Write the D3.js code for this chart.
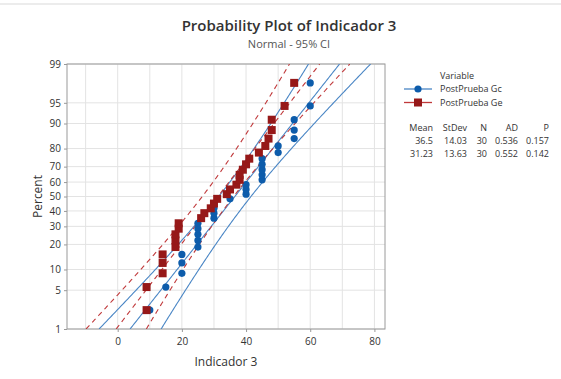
<!DOCTYPE html>
<html><head><meta charset="utf-8">
<script src="https://cdn.jsdelivr.net/npm/d3@7"></script>
<style>body{margin:0;background:#fff} svg{display:block}</style>
</head><body>
<svg id="c" width="561" height="379"></svg>
<script>
const seriesNames = ["PostPrueba Gc", "PostPrueba Ge"];
const gcValues = [10,15,20,20,20,25,25,25,25,25,30,30,30,30,35,40,40,40,45,45,45,45,45,50,50,55,55,55,60,60];
const geValues = [9,9,14,14,14,18,18,18,19,19,26,27,29,30,31,34,35,37,38,38,39,40,41,44,46,47,48,48,52,55];
const fitMean = [36.5, 31.23];
const fitSD = [14.03, 13.63];
const statHeaders = ["Mean","StDev","N","AD","P"];
const statMean = ["36.5","31.23"];
const statStDev = ["14.03","13.63"];
const statN = ["30","30"];
const statAD = ["0.536","0.552"];
const statP = ["0.157","0.142"];
const percentTicks = [1,5,10,20,30,40,50,60,70,80,90,95,99];
const xTicks = [0,20,40,60,80];
const xGrid = [-10,0,10,20,30,40,50,60,70,80];

function probit(p){
  const a=[-3.969683028665376e+01,2.209460984245205e+02,-2.759285104469687e+02,1.383577518672690e+02,-3.066479806614716e+01,2.506628277459239e+00];
  const b=[-5.447609879822406e+01,1.615858368580409e+02,-1.556989798598866e+02,6.680131188771720e+01,-1.328068155288572e+01];
  const c=[-7.784894002430293e-03,-3.223964580411365e-01,-2.400758277161838e+00,-2.549732539343734e+00,4.374664141464968e+00,2.938163982698783e+00];
  const d=[7.784695709041462e-03,3.224671290700398e-01,2.445134137142996e+00,3.754408661907416e+00];
  const pl=0.02425;
  let q,r;
  if(p<pl){q=Math.sqrt(-2*Math.log(p));return (((((c[0]*q+c[1])*q+c[2])*q+c[3])*q+c[4])*q+c[5])/((((d[0]*q+d[1])*q+d[2])*q+d[3])*q+1);}
  if(p<=1-pl){q=p-0.5;r=q*q;return (((((a[0]*r+a[1])*r+a[2])*r+a[3])*r+a[4])*r+a[5])*q/(((((b[0]*r+b[1])*r+b[2])*r+b[3])*r+b[4])*r+1);}
  q=Math.sqrt(-2*Math.log(1-p));return -(((((c[0]*q+c[1])*q+c[2])*q+c[3])*q+c[4])*q+c[5])/((((d[0]*q+d[1])*q+d[2])*q+d[3])*q+1);
}

const svg = d3.select("#c");
const L=67, R=385, T=64, B=329;
const x = d3.scaleLinear().domain([-15.8, 83.3]).range([L, R]);
const zmin = probit(0.01), zmax = probit(0.99);
const y = d3.scaleLinear().domain([zmin, zmax]).range([B, T]);
const font = "'Open Sans', 'Noto Sans', sans-serif";

svg.append("rect").attr("x",0).attr("y",3).attr("width",561).attr("height",2).attr("fill","#ececec");

// title
svg.append("text").attr("x",289).attr("y",31).attr("text-anchor","middle")
  .attr("font-family",font).attr("font-size",15).attr("font-weight",600).attr("fill","#333")
  .text("Probability Plot of Indicador 3");
svg.append("text").attr("x",289).attr("y",48).attr("text-anchor","middle")
  .attr("font-family",font).attr("font-size",11).attr("fill","#555")
  .text("Normal - 95% CI");

// grid
const g = svg.append("g");
g.selectAll(".vg").data(xGrid).enter().append("line")
  .attr("x1",d=>x(d)).attr("x2",d=>x(d)).attr("y1",T).attr("y2",B)
  .attr("stroke","#e3e3e3").attr("stroke-width",1);
g.selectAll(".hg").data(percentTicks).enter().append("line")
  .attr("x1",L).attr("x2",R).attr("y1",d=>y(probit(d/100))).attr("y2",d=>y(probit(d/100)))
  .attr("stroke","#e3e3e3").attr("stroke-width",1);

// axes
const xAxis = d3.axisBottom(x).tickValues(xTicks).tickSize(3).tickSizeOuter(0);
const ax = svg.append("g").attr("transform",`translate(0,${B})`).call(xAxis);
const yAxis = d3.axisLeft(y).tickValues(percentTicks.map(p=>probit(p/100))).tickFormat((d,i)=>percentTicks[i]).tickSize(3).tickSizeOuter(0);
const ay = svg.append("g").attr("transform",`translate(${L},0)`).call(yAxis);
[ax,ay].forEach(a=>{
  a.select(".domain").remove();
  a.selectAll("line").attr("stroke","#999");
  a.selectAll("text").attr("font-family",font).attr("font-size",10).attr("fill","#333");
});
ax.selectAll("text").attr("dy","0.95em");

svg.append("rect").attr("x",L).attr("y",T).attr("width",R-L).attr("height",B-T)
  .attr("fill","none").attr("stroke","#9a9a9a").attr("stroke-width",1);

svg.append("text").attr("x",(L+R)/2).attr("y",366).attr("text-anchor","middle")
  .attr("font-family",font).attr("font-size",12).attr("fill","#333").text("Indicador 3");
svg.append("text").attr("transform",`translate(42,${(T+B)/2}) rotate(-90)`).attr("text-anchor","middle")
  .attr("font-family",font).attr("font-size",12).attr("fill","#333").text("Percent");

// clip
svg.append("defs").append("clipPath").attr("id","clip").append("rect")
  .attr("x",L).attr("y",T).attr("width",R-L).attr("height",B-T);
const plot = svg.append("g").attr("clip-path","url(#clip)");

const lineColors = ["#4a86c5","#c0393b"];
const markColors = ["#0d5cab","#961818"];
const dashes = [null,"5,4"];
const zs = d3.range(0,201).map(i=>zmin+(zmax-zmin)*i/200);
const line = d3.line().x(d=>x(d[0])).y(d=>y(d[1]));
[0,1].forEach(s=>{
  const m=fitMean[s], sd=fitSD[s], n=30;
  [0,-1,1].forEach(k=>{
    const pts = zs.map(z=>[m+sd*z + k*1.959964*sd*Math.sqrt((1+z*z/2)/n), z]);
    plot.append("path").attr("d",line(pts)).attr("fill","none")
      .attr("stroke",lineColors[s]).attr("stroke-width",1.1)
      .attr("stroke-dasharray",dashes[s]);
  });
});

const allSeries = [gcValues, geValues];
allSeries.forEach((vals,s)=>{
  const sorted = vals.slice().sort((a,b)=>a-b);
  const n = sorted.length;
  const pts = sorted.map((v,i)=>[v, probit((i+1-0.3)/(n+0.4))]);
  if(s===0){
    plot.selectAll(".pc").data(pts).enter().append("circle")
      .attr("cx",d=>x(d[0])).attr("cy",d=>y(d[1])).attr("r",3.6).attr("fill",markColors[0]);
  } else {
    plot.selectAll(".ps").data(pts).enter().append("rect")
      .attr("x",d=>x(d[0])-4).attr("y",d=>y(d[1])-4).attr("width",8).attr("height",8).attr("fill",markColors[1]);
  }
});

// legend
const lg = svg.append("g").attr("font-family",font).attr("font-size",9).attr("fill","#333");
lg.append("text").attr("x",440).attr("y",79).text("Variable");
seriesNames.forEach((nm,i)=>{
  const yy = 89 + i*13.5;
  lg.append("line").attr("x1",404).attr("x2",432).attr("y1",yy).attr("y2",yy).attr("stroke",lineColors[i]).attr("stroke-width",1.3);
  if(i===0) lg.append("circle").attr("cx",418).attr("cy",yy).attr("r",3.6).attr("fill",markColors[0]);
  else lg.append("rect").attr("x",414).attr("y",yy-4).attr("width",8).attr("height",8).attr("fill",markColors[1]);
  lg.append("text").attr("x",440).attr("y",yy+3.2).text(nm);
});
const colRight = [433,467,487,518,549];
const tbl = svg.append("g").attr("font-family",font).attr("font-size",9).attr("fill","#333").attr("text-anchor","end");
statHeaders.forEach((h,j)=>tbl.append("text").attr("x",colRight[j]).attr("y",131).text(h));
[0,1].forEach(i=>{
  [statMean,statStDev,statN,statAD,statP].forEach((arr,j)=>{
    tbl.append("text").attr("x",colRight[j]).attr("y",144+i*13).text(arr[i]);
  });
});
</script>
</body></html>
